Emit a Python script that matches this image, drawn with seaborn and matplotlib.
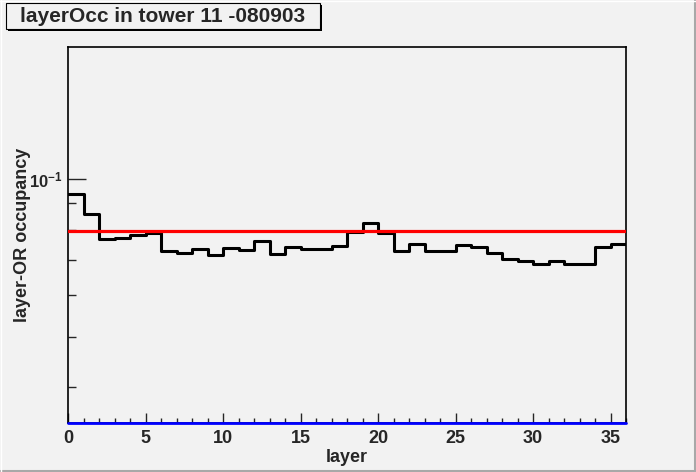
import numpy as np
import pandas as pd
import matplotlib
matplotlib.use("Agg")
import matplotlib.pyplot as plt
from matplotlib.patches import Rectangle
from matplotlib.lines import Line2D
from matplotlib.ticker import FixedLocator, NullFormatter, MultipleLocator
import seaborn as sns

# data
layers = list(range(36))
occupancy = [
    0.0936, 0.0859, 0.0767, 0.0770, 0.0781, 0.0790, 0.0730, 0.0721, 0.0734,
    0.0715, 0.0738, 0.0732, 0.0763, 0.0718, 0.0742, 0.0734, 0.0736, 0.0744,
    0.0791, 0.0824, 0.0790, 0.0730, 0.0751, 0.0730, 0.0730, 0.0749, 0.0742,
    0.0723, 0.0703, 0.0697, 0.0688, 0.0697, 0.0689, 0.0689, 0.0742, 0.0752,
]
reference_level = 0.0796
y_range = (0.0342, 0.1787)
x_range = (0, 36)
y_minor = [0.04, 0.05, 0.06, 0.07, 0.08, 0.09]

df = pd.DataFrame({"layer": layers, "occupancy": occupancy})

sns.set_style("white")
plt.rcParams["font.family"] = ["Liberation Sans", "DejaVu Sans"]
plt.rcParams["font.weight"] = "bold"
plt.rcParams["mathtext.fontset"] = "custom"
plt.rcParams["mathtext.rm"] = "Liberation Sans:bold"
plt.rcParams["mathtext.bf"] = "Liberation Sans:bold"
plt.rcParams["mathtext.default"] = "rm"

bg = "#f2f2f2"
fig = plt.figure(figsize=(6.96, 4.72), dpi=100, facecolor=bg)
ax = fig.add_axes([68 / 696, 1 - 423 / 472, 558 / 696, 376 / 472])
ax.set_facecolor(bg)

# histogram drawn as steps
sns.histplot(
    data=df,
    x="layer",
    weights="occupancy",
    bins=36,
    binrange=x_range,
    element="step",
    fill=False,
    color="black",
    linewidth=2.2,
    ax=ax,
)

ax.axhline(reference_level, color="red", linewidth=2.3, zorder=3)
ax.axhline(y_range[0], color="blue", linewidth=2.0, zorder=4, clip_on=False)

ax.set_yscale("log")
ax.set_xlim(*x_range)
ax.set_ylim(*y_range)

# ticks like ROOT
ax.yaxis.set_major_locator(FixedLocator([0.1]))
ax.set_yticklabels([r"$10^{-1}$"])
ax.yaxis.set_minor_locator(FixedLocator(y_minor))
ax.yaxis.set_minor_formatter(NullFormatter())
ax.xaxis.set_major_locator(MultipleLocator(5))
ax.xaxis.set_minor_locator(MultipleLocator(1))
ax.tick_params(axis="y", which="major", direction="in", length=13, width=1,
               labelsize=12, pad=4, left=True, right=False)
ax.tick_params(axis="y", which="minor", direction="in", length=5.8, width=1,
               left=True, right=False)
ax.tick_params(axis="x", which="major", direction="in", length=7.2, width=1,
               labelsize=13, pad=5, bottom=True, top=False)
ax.tick_params(axis="x", which="minor", direction="in", length=3.6, width=1,
               bottom=True, top=False)
for lab in ax.get_xticklabels() + ax.get_yticklabels():
    lab.set_fontweight("bold")

for side in ["left", "top", "right", "bottom"]:
    ax.spines[side].set_color("black")
    ax.spines[side].set_linewidth(1.2)
    ax.spines[side].set_visible(True)

ax.set_xlabel("layer", fontsize=13, fontweight="bold")
ax.set_ylabel("layer-OR occupancy", fontsize=13, fontweight="bold")
ax.xaxis.set_label_coords(0.5, -(449 - 423) / 376)
ax.yaxis.set_label_coords(-(68 - 31) / 558, 0.5)

# title box with shadow
W, H = 696, 472
fig.add_artist(Rectangle((8 / W, 1 - 31 / H), 314 / W, 26 / H,
                         transform=fig.transFigure, facecolor="black",
                         edgecolor="none", zorder=5))
fig.add_artist(Rectangle((6 / W, 1 - 29 / H), 314 / W, 26 / H,
                         transform=fig.transFigure, facecolor=bg,
                         edgecolor="black", linewidth=0.8, zorder=6))
fig.text(163 / W, 1 - 16 / H, "layerOcc in tower 11 -080903", ha="center",
         va="center", fontsize=15, fontweight="bold", zorder=7)

# canvas bevel
fig.add_artist(Line2D([0, 1], [1.5 / H, 1.5 / H], transform=fig.transFigure,
                      color="#a8a8a8", linewidth=2.2))
fig.add_artist(Line2D([1 - 1.5 / W, 1 - 1.5 / W], [0, 1],
                      transform=fig.transFigure, color="#a8a8a8", linewidth=2.2))
fig.add_artist(Line2D([0, 1], [1 - 0.5 / H, 1 - 0.5 / H],
                      transform=fig.transFigure, color="white", linewidth=1))
fig.add_artist(Line2D([0.5 / W, 0.5 / W], [0, 1], transform=fig.transFigure,
                      color="white", linewidth=1))

fig.savefig("out.png", dpi=100, facecolor=bg)
